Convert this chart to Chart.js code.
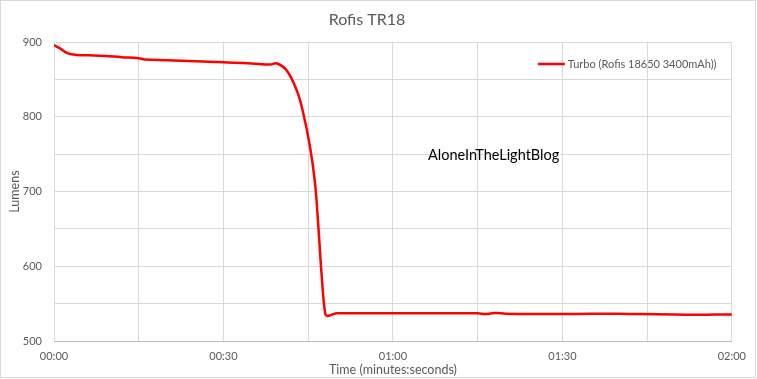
<!DOCTYPE html>
<html>
<head>
<meta charset="utf-8">
<script src="https://cdn.jsdelivr.net/npm/chart.js@4/dist/chart.umd.min.js"></script>
<style>
  body { margin:0; background:#fff; }
  #wrap { width:754px; height:376px; border:1px solid #d9d9d9; }
</style>
</head>
<body>
<div id="wrap"><canvas id="c" width="754" height="376"></canvas></div>
<script>
// time in seconds, lumens
var TIMES   = [0, 1, 2.5, 4, 8, 12, 15, 16, 20, 25, 30, 35, 38.2, 39.5, 41.2, 43, 44.1, 45.3, 46.2, 46.8, 47.4, 48, 48.4, 49.1, 50.1, 55, 60, 70, 75, 76.5, 78, 80, 90, 95, 100, 103, 110, 114, 117, 120];
var LUMENS  = [896, 892, 885, 883, 882, 880, 878.5, 877, 876, 874.5, 873, 871.5, 870, 871.5, 862, 835, 806, 761, 712, 653, 586, 537, 533.5, 535, 537, 537, 537, 537, 537, 536, 537.5, 536.5, 536, 536.5, 536.5, 536, 535.5, 535, 535.5, 535.5];
var SERIES_NAME = "Turbo (Rofis 18650 3400mAh))";
var TITLE = "Rofis TR18";
var X_TITLE = "Time (minutes:seconds)";
var Y_TITLE = "Lumens";
var WATERMARK = "AloneInTheLightBlog";

function pad(n){ return String(n).padStart(2, "0"); }
function mmss(s){ return pad(Math.floor(s/60)) + ":" + pad(s%60); }

var pts = [];
for (var i=0;i<TIMES.length;i++) pts.push({ x: TIMES[i], y: LUMENS[i] });

var grey = "#595959";

// watermark + legend drawn inside the plot, top right
var extras = {
  id: "extras",
  afterDraw: function(chart){
    var ctx = chart.ctx;
    var ds = chart.data.datasets[0];
    ctx.save();
    ctx.font = "14.5px Lato";
    ctx.fillStyle = "#000";
    ctx.textBaseline = "middle";
    ctx.fillText(WATERMARK, 427, 154);

    var lx = chart.chartArea.right - 194, ly = 63;
    ctx.strokeStyle = ds.borderColor;
    ctx.lineWidth = 2.5;
    ctx.beginPath(); ctx.moveTo(lx, ly); ctx.lineTo(lx + 27, ly); ctx.stroke();
    ctx.font = "11px Lato";
    ctx.fillStyle = grey;
    ctx.fillText(ds.label, lx + 30, ly);
    ctx.restore();
  }
};

Chart.defaults.font.family = "Lato";

new Chart(document.getElementById("c").getContext("2d"), {
  type: "line",
  data: {
    datasets: [{
      label: SERIES_NAME,
      data: pts,
      borderColor: "#ff0000",
      backgroundColor: "#ff0000",
      borderWidth: 2.5,
      pointRadius: 0,
      tension: 0.4,
      fill: false
    }]
  },
  options: {
    responsive: false,
    animation: false,
    layout: { padding: { left: 0, right: 22, top: 0, bottom: 0 } },
    plugins: {
      title: { display: true, text: TITLE, color: grey, font: { size: 16, weight: "normal" }, padding: { top: 9, bottom: 13 } },
      legend: { display: false },
      tooltip: { enabled: false }
    },
    scales: {
      x: {
        type: "linear", min: 0, max: 120,
        afterFit: function(s){ s.height = 36; },
        ticks: { stepSize: 15, color: grey, font: { size: 11 }, padding: 9, maxRotation: 0,
          callback: function(v){ return v % 30 === 0 ? mmss(v) : ""; } },
        grid: { color: "#d9d9d9", drawTicks: false },
        border: { color: "#bfbfbf" },
        title: { display: true, text: X_TITLE, color: grey, font: { size: 12.5 }, padding: { top: 0, bottom: 0 } }
      },
      y: {
        min: 500, max: 900,
        afterFit: function(s){ s.width = 53; },
        ticks: { stepSize: 50, color: grey, font: { size: 11 }, padding: 12,
          callback: function(v){ return v % 100 === 0 ? v : ""; } },
        grid: { color: "#d9d9d9", drawTicks: false },
        border: { display: false },
        title: { display: true, text: Y_TITLE, color: grey, font: { size: 12.5 }, padding: { top: 6, bottom: 0 } }
      }
    }
  },
  plugins: [extras]
});
</script>
</body>
</html>
